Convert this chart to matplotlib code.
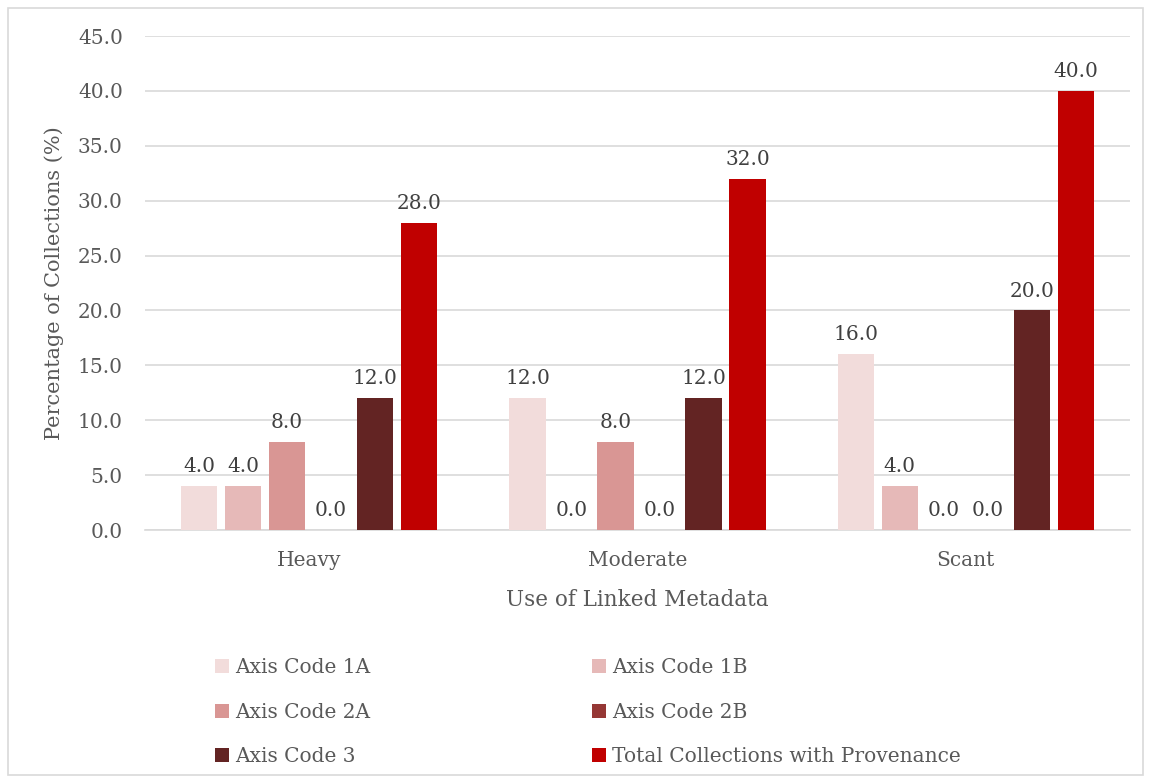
import matplotlib.pyplot as plt
import numpy as np
from matplotlib.patches import Rectangle

categories = ["Heavy", "Moderate", "Scant"]
series_names = ["Axis Code 1A", "Axis Code 1B", "Axis Code 2A",
                "Axis Code 2B", "Axis Code 3", "Total Collections with Provenance"]
values = [
    [4.0, 12.0, 16.0],
    [4.0, 0.0, 4.0],
    [8.0, 8.0, 0.0],
    [0.0, 0.0, 0.0],
    [12.0, 12.0, 20.0],
    [28.0, 32.0, 40.0],
]
colors = ["#F2DCDB", "#E6B9B8", "#D99694", "#953735", "#632423", "#C00000"]
yticks = [0, 5, 10, 15, 20, 25, 30, 35, 40, 45]

plt.rcParams['font.family'] = ['DejaVu Serif']
text_color = "#595959"
fs = 14.5

fig = plt.figure(figsize=(11.51, 7.83), dpi=100)
ax = fig.add_axes([145 / 1151, 1 - 530 / 783, 985 / 1151, 494 / 783])

x = np.arange(len(categories))
step = 0.134
width = 0.11
for i, (name, vals, c) in enumerate(zip(series_names, values, colors)):
    pos = x + (i - 2.5) * step
    ax.bar(pos, vals, width=width, color=c, label=name, zorder=3)
    for px, v in zip(pos, vals):
        ax.text(px, v + 0.9, f"{v:.1f}", ha="center", va="bottom",
                fontsize=fs, color="#404040")

ax.set_xlim(-0.5, 2.5)
ax.set_ylim(0, 45)
ax.set_yticks(yticks)
ax.set_yticklabels([f"{t:.1f}" for t in yticks])
ax.set_xticks(x)
ax.set_xticklabels(categories)
ax.tick_params(axis="both", length=0, labelsize=fs, labelcolor=text_color)
ax.tick_params(axis="y", pad=16)
ax.tick_params(axis="x", pad=15)
ax.yaxis.grid(True, color="#D9D9D9", linewidth=1.2, zorder=0)
for s in ["left", "right", "top"]:
    ax.spines[s].set_visible(False)
ax.spines["bottom"].set_color("#D9D9D9")
ax.spines["bottom"].set_linewidth(1.2)

ax.set_ylabel("Percentage of Collections (%)", fontsize=15, color=text_color, labelpad=10)
ax.set_xlabel("Use of Linked Metadata", fontsize=15.5, color=text_color, labelpad=14)

handles, labels = ax.get_legend_handles_labels()
order = [0, 2, 4, 1, 3, 5]
leg = fig.legend([handles[k] for k in order], [labels[k] for k in order],
                 ncol=2, loc="upper left", bbox_to_anchor=(197 / 1151, 1 - 640 / 783),
                 frameon=False, fontsize=fs, handlelength=0.7, handleheight=0.7,
                 handletextpad=0.3, columnspacing=11.0, labelspacing=1.27,
                 labelcolor=text_color)

fig.patches.append(Rectangle((8 / 1151, 8 / 783), 1135 / 1151, 767 / 783,
                             transform=fig.transFigure, fill=False,
                             edgecolor="#D9D9D9", linewidth=1.2))

fig.savefig("out.png", dpi=100)
